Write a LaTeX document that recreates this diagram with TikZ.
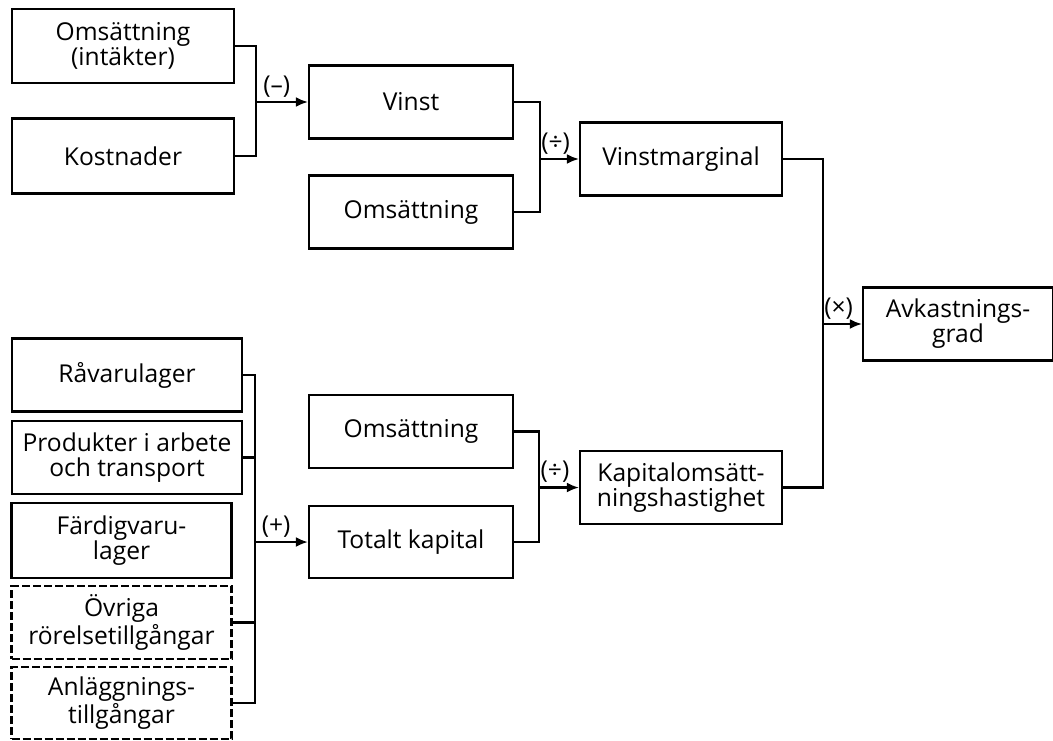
\documentclass[tikz,border=0pt]{standalone}
\usepackage{fontspec}
\setmainfont{Open Sans}
\usepackage{tikz}
\usetikzlibrary{arrows.meta,calc}

\begin{document}
\begin{tikzpicture}[
  x=0.5pt,y=-0.5pt,
  box/.style={draw,line width=1.1pt,fill=white,align=center,inner sep=0pt,
    minimum width=102pt,minimum height=36.5pt,
    font=\fontsize{12.3}{12.5}\selectfont},
  widebox/.style={box,minimum width=115pt},
  midbox/.style={box,minimum width=110pt},
  dashbox/.style={midbox,dash pattern=on 4pt off 1.5pt},
  conn/.style={line width=1.1pt},
  arr/.style={conn,-{Latex[length=6pt,width=5pt]}},
  sign/.style={above,pos=0.4,inner sep=2pt,font=\fontsize{12.3}{12.5}\selectfont}
]
\useasboundingbox (0,0) rectangle (1053,740);

\node[box,minimum width=111pt,minimum height=37pt] (intakt) at (123,46) {Omsättning\\(intäkter)};
\node[box,minimum width=111pt,minimum height=37.5pt] (kostn) at (123,156) {Kostnader};
\node[box] (vinst) at (411,102) {Vinst};
\node[box] (omsA) at (411,212) {Omsättning};
\node[box,minimum width=101pt] (vmarg) at (681,159) {Vinstmarginal};
\node[box,minimum width=95pt] (avkgr) at (958,324) {Avkastnings-\\grad};

\node[widebox] (ravar) at (127,375) {Råvarulager};
\node[widebox] (produ) at (127,457.5) {Produkter i arbete\\och transport};
\node[midbox,minimum height=37.5pt] (fardi) at (121.5,540.5) {Färdigvaru-\\lager};
\node[dashbox] (ovrig) at (121.5,622.5) {Övriga\\rörelsetillgångar};
\node[dashbox,minimum height=36pt] (anlag) at (121.5,703) {Anläggnings-\\tillgångar};
\node[box] (omsB) at (411,431.5) {Omsättning};
\node[box,minimum height=36pt] (totkap) at (411,542) {Totalt kapital};
\node[box,minimum width=101pt] (kapoms) at (681,487.5) {Kapitalomsätt-\\ningshastighet};

\coordinate (jVinst) at (256,102);
\coordinate (jMarg) at (540,159);
\coordinate (jTot) at (255,542);
\coordinate (jKap) at (539,487.5);
\coordinate (jAvk) at (823,324);

\draw[conn] (intakt.east) -| (jVinst) |- (kostn.east);
\draw[arr] (jVinst) -- node[sign]{(–)} (vinst.west);

\draw[conn] (vinst.east) -| (jMarg) |- (omsA.east);
\draw[arr] (jMarg) -- node[sign]{(÷)} (vmarg.west);

\draw[conn] (ravar.east) -| (jTot) |- (anlag.east);
\draw[conn] (produ.east) -- (produ.east -| jTot);
\draw[conn] (ovrig.east) -- (ovrig.east -| jTot);
\draw[arr] (jTot) -- node[sign]{(+)} (totkap.west);

\draw[conn] (omsB.east) -| (jKap) |- (totkap.east);
\draw[arr] (jKap) -- node[sign]{(÷)} (kapoms.west);

\draw[conn] (vmarg.east) -| (jAvk) |- (kapoms.east);
\draw[arr] (jAvk) -- node[sign]{(×)} (avkgr.west);
\end{tikzpicture}
\end{document}
